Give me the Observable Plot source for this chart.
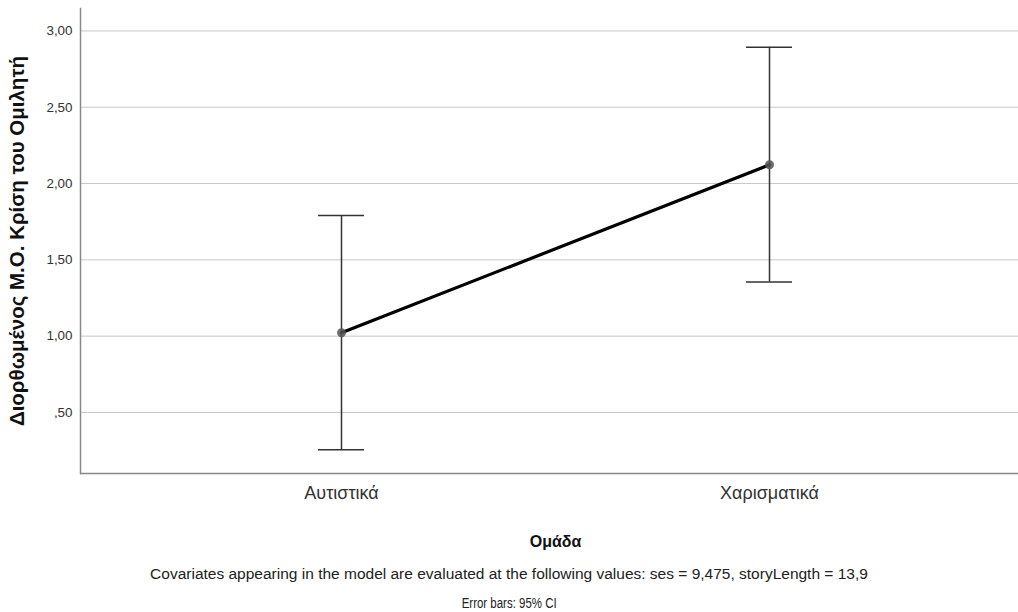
<!DOCTYPE html>
<html>
<head>
<meta charset="utf-8">
<script src="https://cdn.jsdelivr.net/npm/d3@7"></script>
<script src="https://cdn.jsdelivr.net/npm/@observablehq/plot@0.6"></script>
<style>
  html, body { margin: 0; padding: 0; background: #fff; }
  body { width: 1018px; height: 612px; overflow: hidden; font-family: "Liberation Sans", Arial, sans-serif; }
  .cap { text-align: center; color: #222; font-size: 15.5px; line-height: 18px; }
  #c1 { margin-top: 10px; }
  #c2 { margin-top: 11px; }
  #c2 span { display: inline-block; transform: scaleX(0.74); }
</style>
</head>
<body>
<div id="chart"></div>
<div class="cap" id="c1"></div>
<div class="cap" id="c2"><span></span></div>
<script>
const groups = ["Αυτιστικά", "Χαρισματικά"];
const means = [1.022, 2.123];
const lower = [0.256, 1.355];
const upper = [1.790, 2.893];
const yTicks = [0.5, 1.0, 1.5, 2.0, 2.5, 3.0];
const yTickLabels = [",50", "1,00", "1,50", "2,00", "2,50", "3,00"];
const yLabel = "Διορθωμένος Μ.Ο. Κρίση του Ομιλητή";
const xLabel = "Ομάδα";
const caption1 = "Covariates appearing in the model are evaluated at the following values: ses = 9,475, storyLength = 13,9";
const caption2 = "Error bars: 95% CI";

const data = groups.map((g, i) => ({group: g, mean: means[i], lo: lower[i], hi: upper[i]}));
const tickLabel = new Map(yTicks.map((t, i) => [t, yTickLabels[i]]));

const chart = Plot.plot({
  width: 1018,
  height: 555,
  marginLeft: 80,
  marginRight: 0,
  marginTop: 8,
  marginBottom: 82,
  style: {fontFamily: "'Liberation Sans', Arial, sans-serif", background: "white", color: "#222"},
  x: {type: "band", domain: groups, range: [-64, 1174], padding: 0.8925, label: null},
  y: {domain: [0.1, 3.147], label: null},
  marks: [
    Plot.gridY(yTicks, {stroke: "#c8c8c8", strokeOpacity: 1}),
    Plot.ruleY([0.1], {stroke: "#888", strokeWidth: 1.5}),
    Plot.frame({anchor: "left", stroke: "#888", strokeWidth: 1.5}),
    Plot.axisY(yTicks, {tickSize: 0, tickPadding: 8, fontSize: 13.4, fill: "#333", tickFormat: d => tickLabel.get(d), label: null}),
    Plot.axisX({tickSize: 0, tickPadding: 12.5, fontSize: 18, fill: "#333", label: null}),
    Plot.text([yLabel], {frameAnchor: "left", textAnchor: "middle", rotate: -90, dx: -63, fontSize: 20.5, fontWeight: "bold", fill: "#111"}),
    Plot.text([xLabel], {frameAnchor: "bottom", dy: 73, dx: 6, fontSize: 16, fontWeight: "bold", fill: "#111"}),
    Plot.ruleX(data, {x: "group", y1: "lo", y2: "hi", stroke: "#333", strokeWidth: 1.5}),
    Plot.tickY(data, {x: "group", y: "hi", stroke: "#333", strokeWidth: 1.5}),
    Plot.tickY(data, {x: "group", y: "lo", stroke: "#333", strokeWidth: 1.5}),
    Plot.line(data, {x: "group", y: "mean", stroke: "#000", strokeWidth: 3.2}),
    Plot.dot(data, {x: "group", y: "mean", r: 4.5, fill: "#555", fillOpacity: 0.85, stroke: "none"})
  ]
});
document.getElementById("chart").appendChild(chart);
document.getElementById("c1").textContent = caption1;
document.querySelector("#c2 span").textContent = caption2;
</script>
</body>
</html>
